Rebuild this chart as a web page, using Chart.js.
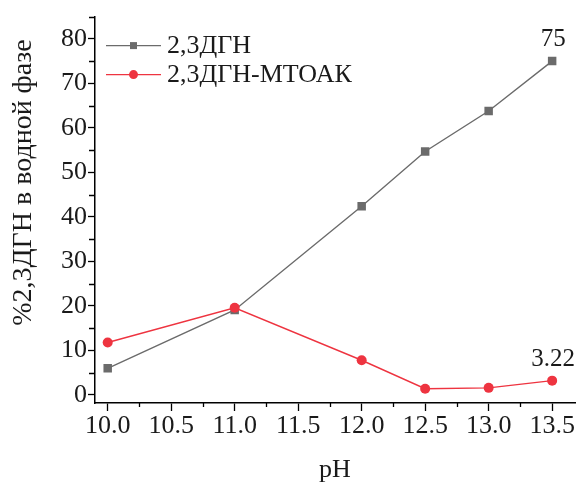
<!DOCTYPE html>
<html>
<head>
<meta charset="utf-8">
<script src="https://cdn.jsdelivr.net/npm/chart.js@4/dist/chart.umd.min.js"></script>
<style>
  html, body { margin: 0; padding: 0; background: #ffffff; }
  #wrap { width: 581px; height: 486px; position: relative; }
</style>
</head>
<body>
<div id="wrap"><canvas id="c"></canvas></div>
<script>
// pH values and the share of 2,3ДГН left in the aqueous phase (%)
const pH = [10.0, 11.0, 12.0, 12.5, 13.0, 13.5];
const dgn = [6.0, 19.1, 42.4, 54.7, 63.8, 75];
const dgnMtoak = [11.8, 19.6, 7.8, 1.4, 1.6, 3.22];
const seriesNames = ['2,3ДГН', '2,3ДГН-МТОАК'];

// Axis ticks: every value gets a tick mark, labelled ones get a longer mark
const xTickValues = [10.0, 10.25, 10.5, 10.75, 11.0, 11.25, 11.5, 11.75, 12.0, 12.25, 12.5, 12.75, 13.0, 13.25, 13.5];
const xLabelValues = [10.0, 10.5, 11.0, 11.5, 12.0, 12.5, 13.0, 13.5];
const yTickValues = [0, 5, 10, 15, 20, 25, 30, 35, 40, 45, 50, 55, 60, 65, 70, 75, 80, 85];
const yLabelValues = [0, 10, 20, 30, 40, 50, 60, 70, 80];
const xTitle = 'pH';
const yTitle = '%2,3ДГН в водной фазе';

const FONT = '"Liberation Serif", "Times New Roman", serif';
const GRAY = '#6b6b6b';
const RED = '#ee3440';
const MAJOR_LEN = 8;
const MINOR_LEN = 4;

const isLabelled = (list, v) => list.some(t => Math.abs(t - v) < 1e-6);

// Short tick marks for the unlabelled values
const minorTicks = {
  id: 'minorTicks',
  afterDraw(chart) {
    const ctx = chart.ctx;
    const xs = chart.scales.x, ys = chart.scales.y;
    ctx.save();
    ctx.strokeStyle = '#000';
    ctx.lineWidth = 1.3;
    ctx.beginPath();
    xTickValues.filter(v => !isLabelled(xLabelValues, v)).forEach(v => {
      const px = Math.round(xs.getPixelForValue(v)) + 0.5;
      ctx.moveTo(px, xs.top);
      ctx.lineTo(px, xs.top + MINOR_LEN);
    });
    yTickValues.filter(v => !isLabelled(yLabelValues, v)).forEach(v => {
      const py = Math.round(ys.getPixelForValue(v)) + 0.5;
      ctx.moveTo(ys.right, py);
      ctx.lineTo(ys.right - MINOR_LEN - 2, py);
    });
    ctx.stroke();
    ctx.restore();
  }
};

// Vertical axis title, set a little above the middle of the axis
const yAxisTitle = {
  id: 'yAxisTitle',
  afterDraw(chart) {
    const ctx = chart.ctx;
    const area = chart.chartArea;
    ctx.save();
    ctx.translate(24, area.top + 166);
    ctx.rotate(-Math.PI / 2);
    ctx.fillStyle = '#1a1a1a';
    ctx.font = '28px ' + FONT;
    ctx.textAlign = 'center';
    ctx.textBaseline = 'middle';
    ctx.fillText(yTitle, 0, 0);
    ctx.restore();
  }
};

// Value labels over the last point of each series
const endLabels = {
  id: 'endLabels',
  afterDatasetsDraw(chart) {
    const ctx = chart.ctx;
    ctx.save();
    ctx.fillStyle = '#1a1a1a';
    ctx.font = '25px ' + FONT;
    ctx.textAlign = 'center';
    ctx.textBaseline = 'bottom';
    chart.data.datasets.forEach((ds, i) => {
      const meta = chart.getDatasetMeta(i);
      const last = meta.data[meta.data.length - 1];
      const val = ds.data[ds.data.length - 1].y;
      ctx.fillText(String(val), last.x + 1, last.y - 9);
    });
    ctx.restore();
  }
};

// Legend in the upper left corner: line with marker, then the series name
const lineLegend = {
  id: 'lineLegend',
  afterDraw(chart) {
    const ctx = chart.ctx;
    const area = chart.chartArea;
    const x0 = area.left + 11, x1 = area.left + 66, xm = (x0 + x1) / 2;
    ctx.save();
    chart.data.datasets.forEach((ds, i) => {
      const y = area.top + 29 + i * 29;
      ctx.strokeStyle = ds.borderColor;
      ctx.lineWidth = 1.4;
      ctx.beginPath();
      ctx.moveTo(x0, y);
      ctx.lineTo(x1, y);
      ctx.stroke();
      ctx.fillStyle = ds.pointBackgroundColor;
      if (ds.pointStyle === 'rect') {
        ctx.fillRect(xm - 3.5, y - 3.5, 7, 7);
      } else {
        ctx.beginPath();
        ctx.arc(xm, y, 4.5, 0, Math.PI * 2);
        ctx.fill();
      }
      ctx.fillStyle = '#1a1a1a';
      ctx.font = '26px ' + FONT;
      ctx.textAlign = 'left';
      ctx.textBaseline = 'middle';
      ctx.fillText(ds.label, x1 + 6, y + 1);
    });
    ctx.restore();
  }
};

const toPoints = ys => pH.map((x, i) => ({ x, y: ys[i] }));

new Chart(document.getElementById('c'), {
  type: 'line',
  data: {
    datasets: [
      {
        label: seriesNames[0],
        data: toPoints(dgn),
        order: 2,
        borderColor: GRAY,
        backgroundColor: GRAY,
        pointBackgroundColor: GRAY,
        pointBorderColor: GRAY,
        borderWidth: 1.4,
        pointStyle: 'rect',
        pointRadius: 6,
        pointBorderWidth: 0,
        tension: 0
      },
      {
        label: seriesNames[1],
        data: toPoints(dgnMtoak),
        order: 1,
        borderColor: RED,
        backgroundColor: RED,
        pointBackgroundColor: RED,
        pointBorderColor: RED,
        borderWidth: 1.4,
        pointStyle: 'circle',
        pointRadius: 5,
        pointBorderWidth: 0,
        tension: 0
      }
    ]
  },
  options: {
    responsive: true,
    maintainAspectRatio: false,
    animation: false,
    devicePixelRatio: 1,
    layout: { padding: { top: 12, right: 1, left: 0, bottom: 0 } },
    plugins: {
      legend: { display: false },
      tooltip: { enabled: false }
    },
    scales: {
      x: {
        type: 'linear',
        min: 9.9,
        max: 13.68,
        afterBuildTicks: s => { s.ticks = xTickValues.map(v => ({ value: v })); },
        afterFit: s => { s.height = 83; },
        border: { color: '#000', width: 1.5 },
        grid: {
          drawOnChartArea: false,
          drawTicks: true,
          tickLength: MAJOR_LEN,
          tickWidth: 1.3,
          tickColor: c => isLabelled(xLabelValues, c.tick.value) ? '#000' : 'rgba(0,0,0,0)'
        },
        ticks: {
          autoSkip: false,
          maxRotation: 0,
          padding: 0,
          color: '#1a1a1a',
          font: { family: FONT, size: 26 },
          callback: v => isLabelled(xLabelValues, v) ? Number(v).toFixed(1) : ''
        },
        title: {
          display: true,
          text: xTitle,
          color: '#1a1a1a',
          font: { family: FONT, size: 26 },
          padding: { top: 0, bottom: 0 }
        }
      },
      y: {
        type: 'linear',
        min: -1.8,
        max: 85,
        afterBuildTicks: s => { s.ticks = yTickValues.map(v => ({ value: v })); },
        afterFit: s => { s.width = 95; },
        border: { color: '#000', width: 1.5 },
        grid: {
          drawOnChartArea: false,
          drawTicks: true,
          tickLength: 7,
          tickWidth: 1.3,
          tickColor: c => isLabelled(yLabelValues, c.tick.value) ? '#000' : 'rgba(0,0,0,0)'
        },
        ticks: {
          autoSkip: false,
          padding: 1,
          color: '#1a1a1a',
          font: { family: FONT, size: 26 },
          callback: v => isLabelled(yLabelValues, v) ? String(v) : ''
        },
        title: { display: false }
      }
    }
  },
  plugins: [minorTicks, yAxisTitle, endLabels, lineLegend]
});
</script>
</body>
</html>
